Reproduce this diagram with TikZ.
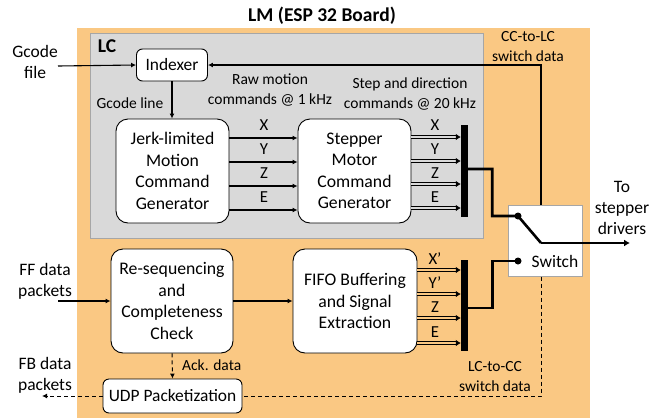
\documentclass[tikz,border=0pt]{standalone}
\usepackage{fontspec}
\setmainfont{Carlito}
\usetikzlibrary{arrows.meta}
\definecolor{lmorange}{HTML}{FAC883}
\definecolor{lcgray}{HTML}{D9D9D9}
\definecolor{lcborder}{HTML}{A6A6A6}
\begin{document}
\begin{tikzpicture}[x=1pt,y=-1pt,
  box/.style={draw=black, line width=0.9pt, fill=white, rounded corners=12pt, align=center, inner sep=0pt, font=\fontsize{17.7}{21.5}\selectfont},
  smallbox/.style={box, rounded corners=6pt, font=\fontsize{17.4}{21}\selectfont},
  lbl/.style={inner sep=0pt, align=center, font=\fontsize{17.5}{21.3}\selectfont},
  ann/.style={inner sep=0pt, align=center, font=\fontsize{15.5}{20}\selectfont},
  axl/.style={inner sep=0pt, align=center, font=\fontsize{16.8}{20}\selectfont},
  arr/.style={line width=1.1pt, -{Latex[length=5pt,width=5pt]}},
  dbl/.style={line width=0.75pt, double distance=1.9pt, -{Latex[length=5pt,width=6.5pt]}},
  thk/.style={line width=2.6pt},
  dsh/.style={line width=1pt, dash pattern=on 4pt off 3pt},
  busbar/.style={fill=black, draw=none, inner sep=0pt, minimum width=7pt},
  dot/.style={circle, fill=black, inner sep=0pt, minimum size=7pt}
]
\useasboundingbox (0,0) rectangle (650,418);
% backgrounds
\fill[lmorange] (77,28) rectangle (590,418);
\draw[fill=lcgray, draw=lcborder, line width=1pt] (90,33) rectangle (483,238);

\node[inner sep=0pt, font=\fontsize{19.5}{22}\selectfont\bfseries] (title) at (322,16) {LM (ESP 32 Board)};
\node[inner sep=0pt, font=\fontsize{19.5}{22}\selectfont\bfseries] (lclbl) at (107,46) {LC};

% boxes
\node[smallbox, minimum width=71pt, minimum height=32pt] (indexer) at (172,65) {Indexer};
\node[box, minimum width=113pt, minimum height=104pt] (jerk) at (172.5,171) {Jerk-limited\\Motion\\Command\\Generator};
\node[box, minimum width=113pt, minimum height=104pt] (stepper) at (354.5,171) {Stepper\\Motor\\Command\\Generator};
\node[box, minimum width=122pt, minimum height=104pt] (reseq) at (172,301) {Re-sequencing\\and\\Completeness\\Check};
\node[box, minimum width=124pt, minimum height=104pt] (fifo) at (355,301) {FIFO Buffering\\and Signal\\Extraction};
\node[smallbox, minimum width=139pt, minimum height=34pt] (udp) at (172.5,396) {UDP Packetization};
\node[draw=lcborder, line width=1pt, fill=white, minimum width=74pt, minimum height=71pt, inner sep=0pt] (switch) at (545,240.5) {};
\node[lbl] (swlbl) at (555,261) {Switch};

% bus bars
\node[busbar, minimum height=92pt] (bus1) at (464.5,171) {};
\node[busbar, minimum height=91pt] (bus2) at (464.5,305.5) {};

% labels
\node[lbl] (gcodefile) at (35,62) {Gcode\\file};
\coordinate (gin) at (58,66);
\node[ann] (raw) at (270,90) {Raw motion\\commands @ 1 kHz};
\node[ann] (steplbl) at (410,94) {Step and direction\\commands @ 20 kHz};
\node[ann] (cclc) at (528,47) {CC-to-LC\\switch data};
\node[ann] (gline) at (130,103) {Gcode line};
\node[lbl] (tostep) at (622,208) {To\\stepper\\drivers};
\node[lbl] (ff) at (45,281) {FF data\\packets};
\coordinate (ffin) at (58,301);
\node[lbl] (fb) at (45,375) {FB data\\packets};
\coordinate (fbout) at (42,396);
\node[ann, anchor=west] (ack) at (182,365) {Ack. data};
\node[ann] (lccc) at (495,377) {LC-to-CC\\switch data};

\node[axl] (x1) at (264,125) {X};
\node[axl] (y1) at (264,149) {Y};
\node[axl] (z1) at (264,173) {Z};
\node[axl] (e1) at (264,197) {E};
\node[axl] (x2) at (435,125) {X};
\node[axl] (y2) at (435,149) {Y};
\node[axl] (z2) at (435,173) {Z};
\node[axl] (e2) at (435,197) {E};
\node[axl] (x3) at (435,259) {X’};
\node[axl] (y3) at (435,283) {Y’};
\node[axl] (z3) at (435,307) {Z};
\node[axl] (e3) at (435,332) {E};

% connectors
\draw[arr] (gin) -- (indexer.west);
\draw[arr] (indexer.south) -- (indexer.south |- jerk.north);
\draw[arr] (ffin) -- (reseq.west);
\draw[arr] (reseq.east) -- (fifo.west);
\draw[arr] ([xshift=-4pt]switch.north) |- (indexer.east);

\foreach \s in {33,9,-15,-39}{
  \draw[arr] ([yshift=\s pt]jerk.east) -- ([yshift=\s pt]stepper.west);
}
\foreach \s in {34,10,-13,-37}{
  \draw[dbl, double=lcgray] ([yshift=\s pt]stepper.east) -- ([yshift=\s pt]stepper.east -| bus1.west);
}
\foreach \s in {31,7,-17,-42}{
  \draw[dbl, double=lmorange] ([yshift=\s pt]fifo.east) -- ([yshift=\s pt]fifo.east -| bus2.west);
}

\node[dot] (dot1) at (518,216) {};
\node[dot] (dot2) at (518,261) {};
\coordinate (corner) at (541,243);
\coordinate (outend) at (630,243);
\draw[thk] ([yshift=2pt]bus1.east) -- ++(24,0) |- (dot1.center) -- (corner);
\draw[thk, -{Latex[length=6pt,width=7pt]}] (corner) -- (outend);
\draw[thk] ([yshift=-2.5pt]bus2.east) -- ++(24,0) |- (dot2.center);

\draw[dsh] ([xshift=-4pt]switch.south) |- (udp.east);
\draw[dsh, -{Latex[length=5pt,width=5pt]}] (udp.west) -- (fbout);
\draw[dsh, -{Latex[length=5pt,width=5pt]}] (reseq.south) -- (udp.north);
\end{tikzpicture}
\end{document}
